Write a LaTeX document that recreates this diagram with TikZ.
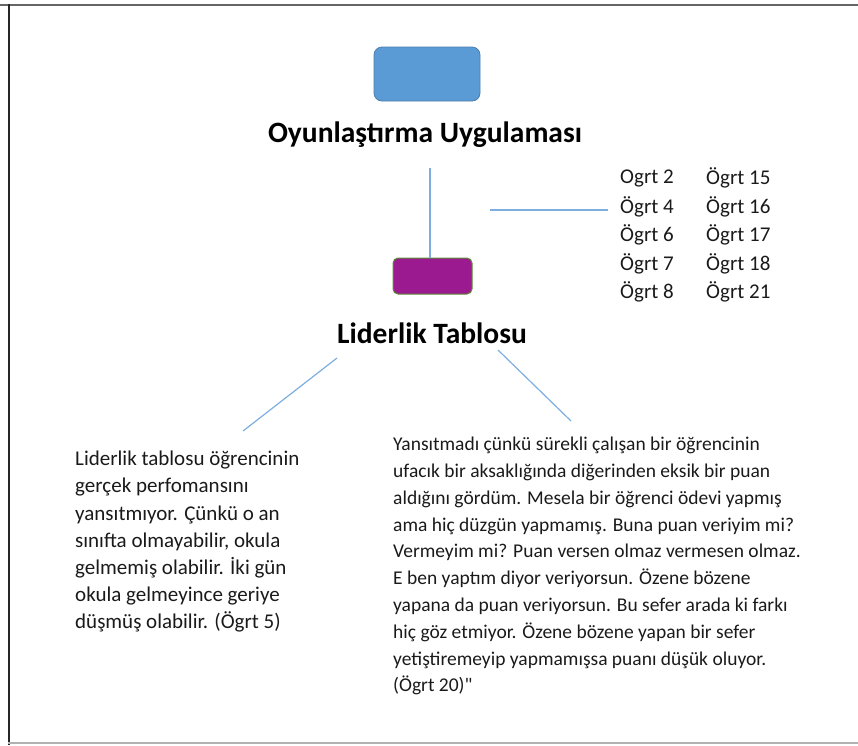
\documentclass[tikz,border=0pt]{standalone}
\usepackage{fontspec}
\setmainfont{Carlito}
\newcommand{\straightquote}{{\addfontfeature{Ligatures=TeXOff}"}}
\begin{document}
\begin{tikzpicture}[x=1pt,y=-1pt,
  linkline/.style={draw=linkblue,line width=1.4pt},
  title/.style={font=\fontsize{29.5}{32}\selectfont\bfseries,inner sep=0pt},
  namecell/.style={font=\fontsize{21}{24}\selectfont,inner sep=0pt,anchor=west,text=textdark},
  quote/.style={inner sep=0pt,anchor=north west,align=left,text=textdark}]
\definecolor{linkblue}{HTML}{7DAEE0}
\definecolor{boxblue}{HTML}{5B9BD5}
\definecolor{boxblueedge}{HTML}{4A7EB0}
\definecolor{boxpurple}{HTML}{9C1A8F}
\definecolor{boxgreen}{HTML}{5E8C3A}
\definecolor{textdark}{HTML}{1A1A1A}
\useasboundingbox (0,0) rectangle (858,745);
% page frame
\draw[gray!80!black,line width=2pt] (0,4.5) -- (858,4.5);
\draw[black!85,line width=2pt] (8.5,4) -- (8.5,745);
\draw[gray!60,line width=1.5pt] (8,743) -- (858,743);
% boxes
\node[draw=boxblueedge,fill=boxblue,line width=0.8pt,rounded corners=8pt,
      minimum width=106pt,minimum height=54pt,inner sep=0pt] (gbox) at (427,74) {};
\node[draw=boxgreen,fill=boxpurple,line width=1pt,rounded corners=5pt,
      minimum width=79pt,minimum height=36pt,inner sep=0pt] (lbox) at (432.5,276) {};
% titles
\node[title] (gtitle) at (425,135) {Oyunlaştırma Uygulaması};
\node[title] (ltitle) at (432,333) {Liderlik Tablosu};
% teacher list
\node[namecell] (n1) at (620,178) {Ogrt 2};
\node[namecell] (n2) at (620,207) {Ögrt 4};
\node[namecell] (n3) at (620,235) {Ögrt 6};
\node[namecell] (n4) at (620,264) {Ögrt 7};
\node[namecell] (n5) at (620,292) {Ögrt 8};
\node[namecell] (m1) at (706,178) {Ögrt 15};
\node[namecell] (m2) at (706,207) {Ögrt 16};
\node[namecell] (m3) at (706,235) {Ögrt 17};
\node[namecell] (m4) at (706,264) {Ögrt 18};
\node[namecell] (m5) at (706,292) {Ögrt 21};
% quotes
\node[quote,font=\fontsize{21}{27.2}\selectfont] (qleft) at (75,451) {Liderlik tablosu öğrencinin\\
gerçek perfomansını\\
yansıtmıyor. Çünkü o an\\
sınıfta olmayabilir, okula\\
gelmemiş olabilir. İki gün\\
okula gelmeyince geriye\\
düşmüş olabilir. (Ögrt 5)};
\node[quote,font=\fontsize{19.5}{26.8}\selectfont] (qright) at (393,437) {Yansıtmadı çünkü sürekli çalışan bir öğrencinin\\
ufacık bir aksaklığında diğerinden eksik bir puan\\
aldığını gördüm. Mesela bir öğrenci ödevi yapmış\\
ama hiç düzgün yapmamış. Buna puan veriyim mi?\\
Vermeyim mi? Puan versen olmaz vermesen olmaz.\\
E ben yaptım diyor veriyorsun.  Özene bözene\\
yapana da puan veriyorsun. Bu sefer arada ki farkı\\
hiç göz etmiyor. Özene bözene yapan bir sefer\\
yetiştiremeyip yapmamışsa puanı düşük oluyor.\\
(Ögrt 20)\straightquote};
% connectors
\coordinate (vtop) at (430,168);
\coordinate (hl) at (490,210);
\coordinate (hr) at (608,210);
\coordinate (dl1) at (337,358);
\coordinate (dl2) at (243,431);
\coordinate (dr1) at (498,350);
\coordinate (dr2) at (571,421);
\draw[linkline] (vtop) -- (vtop |- lbox.north);
\draw[linkline] (hl) -- (hr);
\draw[linkline,line width=1.2pt] (dl1) -- (dl2);
\draw[linkline,line width=1.2pt] (dr1) -- (dr2);
\end{tikzpicture}
\end{document}
